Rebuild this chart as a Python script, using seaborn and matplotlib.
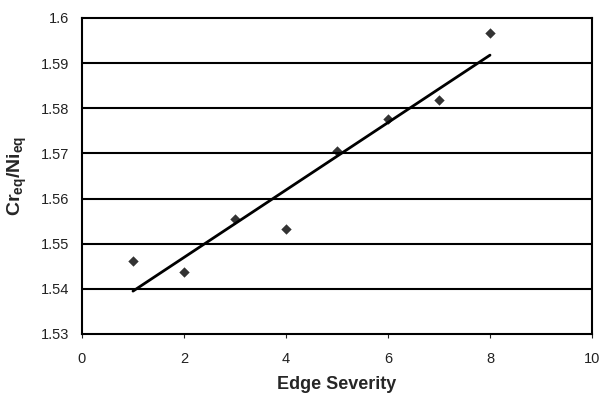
import matplotlib
matplotlib.use("Agg")
import matplotlib.pyplot as plt
import seaborn as sns
import pandas as pd

edge_severity = [1, 2, 3, 4, 5, 6, 7, 8]
cr_ni_ratio = [1.5461, 1.5438, 1.5554, 1.5533, 1.5705, 1.5776, 1.5818, 1.5966]
y_ticks = [1.53, 1.54, 1.55, 1.56, 1.57, 1.58, 1.59, 1.60]
y_tick_labels = ["1.53", "1.54", "1.55", "1.56", "1.57", "1.58", "1.59", "1.6"]
x_ticks = [0, 2, 4, 6, 8, 10]

sns.set_theme(style="white")
plt.rcParams['font.family'] = ['Liberation Sans', 'DejaVu Sans']
plt.rcParams['mathtext.fontset'] = 'custom'
plt.rcParams['mathtext.rm'] = 'Liberation Sans'
plt.rcParams['mathtext.bf'] = 'Liberation Sans:bold'

df = pd.DataFrame({"x": edge_severity, "y": cr_ni_ratio})

fig = plt.figure(figsize=(6.01, 3.98), dpi=100)
ax = fig.add_axes([82/601, 1 - 334/398, (592-82)/601, (334-18)/398])

sns.regplot(data=df, x="x", y="y", ax=ax, ci=None, truncate=True,
            marker="D",
            scatter_kws=dict(s=28, color="black", linewidths=0, zorder=4),
            line_kws=dict(color="black", lw=2.0, zorder=3))

ax.set_xlim(0, 10)
ax.set_ylim(1.53, 1.60)
ax.set_xticks(x_ticks)
ax.set_xticklabels([str(t) for t in x_ticks])
ax.set_yticks(y_ticks)
ax.set_yticklabels(y_tick_labels)

for yv in y_ticks[1:-1]:
    ax.axhline(yv, color="black", lw=1.5, zorder=1)

for s in ax.spines.values():
    s.set_visible(True)
    s.set_color("black")
    s.set_linewidth(1.5)

ax.tick_params(axis="both", labelsize=10.5, colors="#222222", width=0.8,
               direction="out", bottom=True, left=True)
ax.tick_params(axis="y", length=0, pad=9)
ax.tick_params(axis="x", length=3, pad=10)

ax.set_xlabel("Edge Severity", fontsize=13, fontweight="bold", labelpad=7)
ax.set_ylabel(r"$\mathbf{Cr_{eq}/Ni_{eq}}$", fontsize=14, labelpad=9)

fig.savefig("out.png", dpi=100)
